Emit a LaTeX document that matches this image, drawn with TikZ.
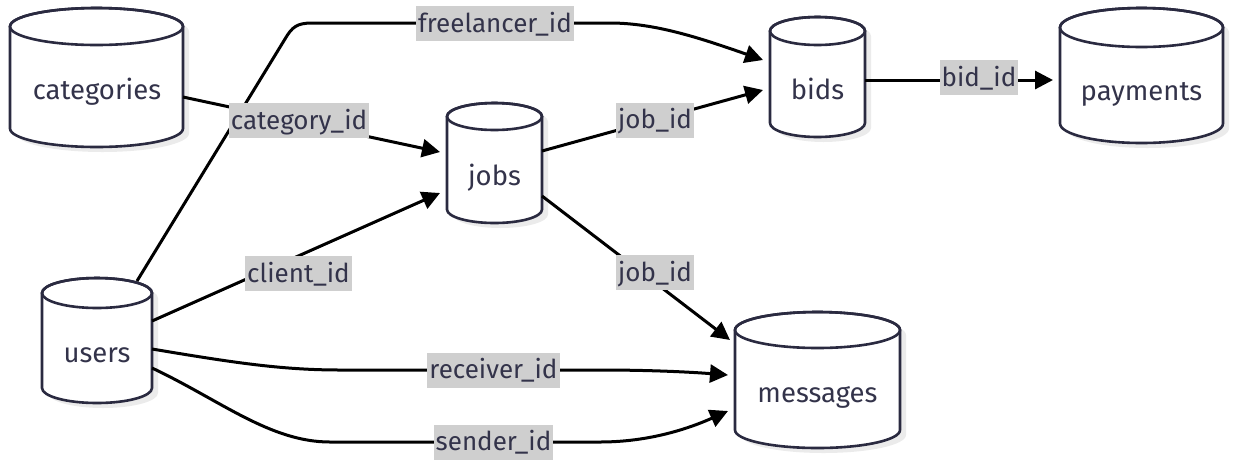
\documentclass[tikz,border=0pt]{standalone}
\usepackage{fontspec}
\setmainfont{Fira Sans}
\usetikzlibrary{arrows.meta,calc}
\definecolor{dbline}{HTML}{2A2A40}
\definecolor{txtc}{HTML}{33334A}
\definecolor{lblbg}{HTML}{CFCFCF}
\definecolor{shad}{HTML}{EBEBEB}
\newcommand\dbcyl[5]{%
  \fill[shad] ({#1-#4+6},{#2+#5+5}) -- ({#1-#4+6},{#3-#5+5})
     arc[start angle=180,end angle=0,x radius=#4,y radius=#5]
     -- ({#1+#4+6},{#2+#5+5})
     arc[start angle=0,end angle=-180,x radius=#4,y radius=#5] -- cycle;
  \path[fill=white,draw=dbline,line width=2.6pt,line join=round]
     ({#1-#4},{#2+#5}) -- ({#1-#4},{#3-#5})
     arc[start angle=180,end angle=0,x radius=#4,y radius=#5]
     -- ({#1+#4},{#2+#5})
     arc[start angle=0,end angle=-180,x radius=#4,y radius=#5] -- cycle;
  \draw[dbline,line width=2.6pt] (#1,{#2+#5}) ellipse[x radius=#4,y radius=#5];
}
\begin{document}
\begin{tikzpicture}[x=1pt,y=-1pt,
  font=\fontsize{26}{30}\selectfont,
  box/.style={rectangle,draw=none,inner sep=0pt,outer sep=0pt},
  dbtxt/.style={anchor=base,text=txtc,inner sep=0pt,font=\fontsize{27.5}{31}\selectfont},
  lbl/.style={fill=lblbg,text=txtc,inner xsep=2pt,inner ysep=1pt,text height=25pt,text depth=8pt},
  conn/.style={line width=3pt,black},
  arr/.style={conn,-{Triangle[length=18pt,width=18pt]}}]
\useasboundingbox (0,0) rectangle (1236,459);
% cylinders
\dbcyl{96.5}{8}{147}{86.5}{18.5}
\dbcyl{494.5}{103}{223}{47.5}{13.5}
\dbcyl{817.5}{17}{137}{47.5}{14}
\dbcyl{1141.5}{8}{143}{81.5}{19.5}
\dbcyl{97}{278}{403}{55}{15}
\dbcyl{817.5}{312}{448}{82.5}{18}
% anchor boxes
\node[box,minimum width=173pt,minimum height=139pt] (cat) at (96.5,77.5) {};
\node[box,minimum width=95pt,minimum height=120pt] (jobs) at (494.5,163) {};
\node[box,minimum width=95pt,minimum height=120pt] (bids) at (817.5,77) {};
\node[box,minimum width=163pt,minimum height=135pt] (pay) at (1141.5,75.5) {};
\node[box,minimum width=110pt,minimum height=125pt] (users) at (97,340.5) {};
\node[box,minimum width=165pt,minimum height=136pt] (msg) at (817.5,380) {};
% table names
\node[dbtxt] (tcat) at (97,99) {categories};
\node[dbtxt] (tjobs) at (494.5,185) {jobs};
\node[dbtxt] (tbids) at (817.5,99) {bids};
\node[dbtxt] (tpay) at (1141.5,100) {payments};
\node[dbtxt] (tusers) at (97,362) {users};
\node[dbtxt] (tmsg) at (817.5,402) {messages};
% connectors
\draw[arr] ($(cat.east)+(0,19.5)$) -- ($(jobs.west)+(-7,-11)$);
\draw[arr] ($(users.north)+(40,3)$) -- (285,39) .. controls (292,27) and (297,23) .. (312,23)
   -- (610,23) .. controls (655,23) and (700,38) .. ($(bids.west)+(-7,-17)$);
\draw[arr] ($(jobs.east)+(0,-12)$) -- ($(bids.west)+(-7,13)$);
\draw[arr] ($(bids.east)+(0,3)$) -- ($(pay.west)+(-7,4.5)$);
\draw[arr] ($(users.east)+(0,-19.5)$) -- ($(jobs.west)+(-7,30)$);
\draw[arr] ($(jobs.east)+(0,33)$) -- ($(msg.west)+(-5,-40)$);
\draw[arr] ($(users.east)+(0,8.5)$) .. controls (230,362) and (280,370) .. (340,370)
   -- (600,370) .. controls (650,370) and (690,372) .. ($(msg.west)+(-7,-5)$);
\draw[arr] ($(users.east)+(0,27.5)$) .. controls (220,400) and (270,442) .. (330,442)
   -- (600,442) .. controls (650,442) and (690,428) .. ($(msg.west)+(-7,31)$);
% edge labels
\node[lbl] (lcat) at (299,120.5) {category\_id};
\node[lbl] (lfree) at (495,23.5) {freelancer\_id};
\node[lbl] (ljob1) at (655,120) {job\_id};
\node[lbl] (lbid) at (979,77.5) {bid\_id};
\node[lbl] (lclient) at (298.5,273.5) {client\_id};
\node[lbl] (ljob2) at (655,272.5) {job\_id};
\node[lbl] (lrecv) at (493.5,370) {receiver\_id};
\node[lbl] (lsend) at (493.5,442) {sender\_id};
\end{tikzpicture}
\end{document}
